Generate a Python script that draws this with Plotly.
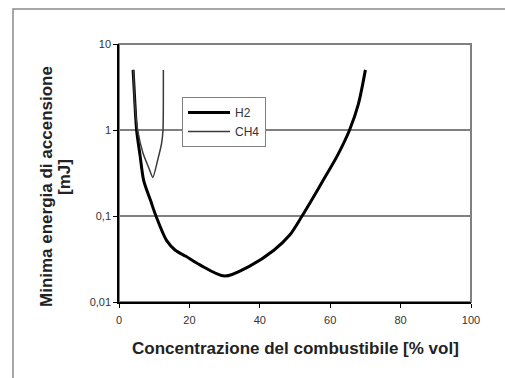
import plotly.graph_objects as go

# Data
h2_x = [4, 4.3, 5, 6, 7, 9, 10.5, 13.5, 16, 19, 23, 30, 37, 44, 48.5, 52, 55, 58, 62, 65.5, 68, 70]
h2_y = [5, 3, 1, 0.5, 0.26, 0.15, 0.1, 0.052, 0.04, 0.034, 0.027, 0.02, 0.026, 0.04, 0.06, 0.1, 0.16, 0.26, 0.5, 1, 2, 5]

ch4_x = [4.1, 4.5, 5.3, 6.8, 8.5, 9.6, 11, 12.1, 12.5, 12.6]
ch4_y = [5, 2, 1, 0.54, 0.36, 0.28, 0.45, 0.7, 1, 5]

x_ticks = [0, 20, 40, 60, 80, 100]
y_ticks = [0.01, 0.1, 1, 10]
y_tick_labels = ["0,01", "0,1", "1", "10"]

FONT = "Liberation Sans, Arial, sans-serif"
W, H = 505, 378
L, R, T, B = 119, 34, 44, 76
pw, ph = W - L - R, H - T - B

def px2paper_x(px):
    return (px - L) / pw

def px2paper_y(py):
    return (H - B - py) / ph

fig = go.Figure()
fig.add_trace(go.Scatter(x=h2_x, y=h2_y, name="H2", mode="lines",
                         line=dict(color="#000000", width=3, shape="spline", smoothing=0.8)))
fig.add_trace(go.Scatter(x=ch4_x, y=ch4_y, name="CH4", mode="lines",
                         line=dict(color="#3a3a3a", width=1.5, shape="spline", smoothing=0.6)))

fig.update_layout(
    width=W, height=H,
    margin=dict(l=L, r=R, t=T, b=B),
    paper_bgcolor="white", plot_bgcolor="white",
    font=dict(family=FONT, size=11, color="#222222"),
    showlegend=True,
    legend=dict(x=px2paper_x(182), y=px2paper_y(97), xanchor="left", yanchor="top",
                bgcolor="white", bordercolor="#808080", borderwidth=1,
                font=dict(family=FONT, size=12, color="#333333"),
                tracegroupgap=0, itemwidth=42),
    xaxis=dict(range=[0, 100], tickvals=x_ticks, showgrid=False, zeroline=False,
               showline=True, linecolor="#000000", linewidth=1.5,
               ticks="outside", ticklen=4, tickcolor="#000000", tickwidth=1,
               ticklabelstandoff=3,
               tickfont=dict(size=11, color="#333333")),
    yaxis=dict(type="log", range=[-2, 1], tickvals=y_ticks, ticktext=y_tick_labels,
               showgrid=True, gridcolor="#808080", gridwidth=1.5, zeroline=False,
               showline=True, linecolor="#000000", linewidth=1.5,
               ticks="outside", ticklen=4, tickcolor="#000000", tickwidth=1,
               tickfont=dict(size=11, color="#333333")),
    shapes=[
        dict(type="rect", xref="paper", yref="paper", x0=0, x1=1, y0=0, y1=1,
             line=dict(color="#808080", width=2), layer="below"),
        dict(type="rect", xref="paper", yref="paper",
             x0=px2paper_x(13), x1=px2paper_x(520), y0=px2paper_y(395), y1=px2paper_y(9),
             line=dict(color="#8a8a8a", width=1.5), layer="below"),
    ],
    annotations=[
        dict(text="<b>Concentrazione del combustibile [% vol]</b>", xref="paper", yref="paper",
             x=0.5, y=px2paper_y(348), xanchor="center", yanchor="middle", showarrow=False,
             font=dict(family=FONT, size=17, color="#222222")),
        dict(text="<b>Minima energia di accensione</b>", xref="paper", yref="paper",
             x=px2paper_x(46), y=px2paper_y(187), xanchor="center", yanchor="middle",
             textangle=-90, showarrow=False,
             font=dict(family=FONT, size=17, color="#222222")),
        dict(text="<b>[mJ]</b>", xref="paper", yref="paper",
             x=px2paper_x(64), y=px2paper_y(177), xanchor="center", yanchor="middle",
             textangle=-90, showarrow=False,
             font=dict(family=FONT, size=17, color="#222222")),
    ],
)

fig.write_html("out.html")
